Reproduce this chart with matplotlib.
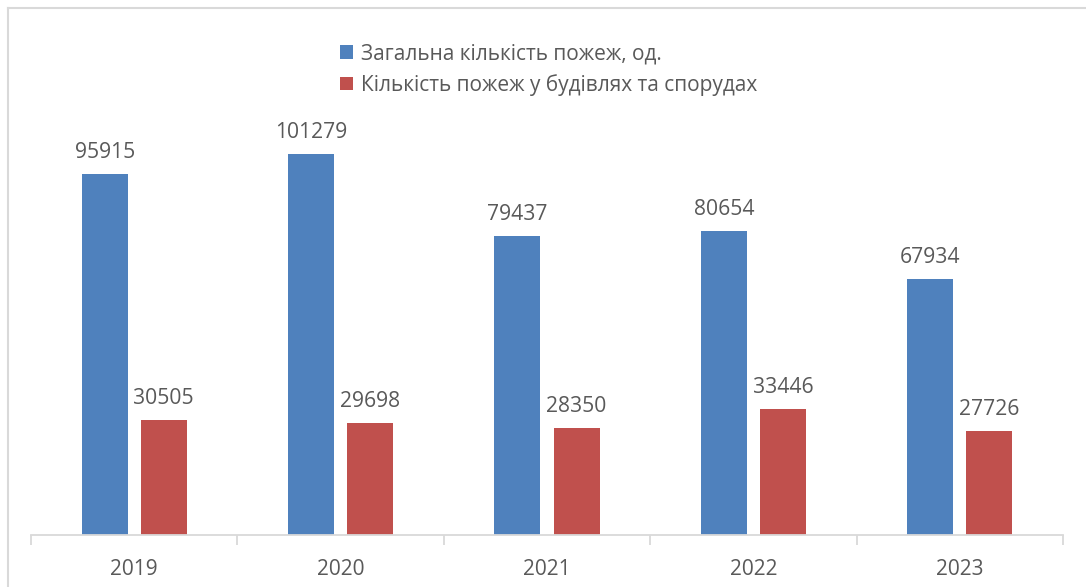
import numpy as np
import matplotlib.pyplot as plt
from matplotlib.lines import Line2D

# Роки та значення
years = ['2019', '2020', '2021', '2022', '2023']
total_fires = [95915, 101279, 79437, 80654, 67934]
building_fires = [30505, 29698, 28350, 33446, 27726]

label_total = 'Загальна кількість пожеж, од.'
label_build = 'Кількість пожеж у будівлях та спорудах'

blue = '#4F81BD'
red = '#C0504D'
grey_text = '#595959'
grey_line = '#D9D9D9'

plt.rcParams['font.family'] = ['Open Sans', 'DejaVu Sans']

fig = plt.figure(figsize=(10.86, 5.87), dpi=100)
ax = fig.add_axes([31 / 1086, 52 / 587, (1063 - 31) / 1086, 0.77])

x = np.arange(len(years))
w = 0.223
off = 0.143
b1 = ax.bar(x - off, total_fires, w, color=blue, label=label_total)
b2 = ax.bar(x + off, building_fires, w, color=red, label=label_build)

for bars in (b1, b2):
    for r in bars:
        ax.annotate(str(int(r.get_height())), (r.get_x() + r.get_width() / 2, r.get_height()),
                    xytext=(0, 11), textcoords='offset pixels', ha='center', va='bottom',
                    fontsize=15.2, color=grey_text)

ax.set_xlim(-0.5, len(years) - 0.5)
# верх осі підібрано під висоту стовпчиків
ax.set_ylim(0, 120000)
ax.set_yticks([])
for s in ['left', 'right', 'top']:
    ax.spines[s].set_visible(False)
ax.spines['bottom'].set_color(grey_line)
ax.spines['bottom'].set_linewidth(1.3)

ax.set_xticks(x)
ax.set_xticklabels(years)
ax.set_xticks(np.arange(-0.5, len(years)), minor=True)
ax.tick_params(axis='x', which='major', length=0, pad=17, labelsize=15, labelcolor=grey_text)
ax.tick_params(axis='x', which='minor', length=7, width=1.3, color=grey_line)

fig.legend(handles=[b1, b2], loc='upper left', bbox_to_anchor=(332 / 1086, 1 - 35 / 587),
           frameon=False, fontsize=15, handlelength=0.6, handleheight=0.6, handletextpad=0.4,
           labelspacing=0.45, labelcolor=grey_text, borderaxespad=0)

# рамка навколо діаграми
fig.add_artist(Line2D([8 / 1086, 1], [1 - 8 / 587, 1 - 8 / 587], color=grey_line, lw=1.5,
                      transform=fig.transFigure))
fig.add_artist(Line2D([8 / 1086, 8 / 1086], [0, 1 - 8 / 587], color=grey_line, lw=1.5,
                      transform=fig.transFigure))

fig.savefig('out.png', dpi=100)
